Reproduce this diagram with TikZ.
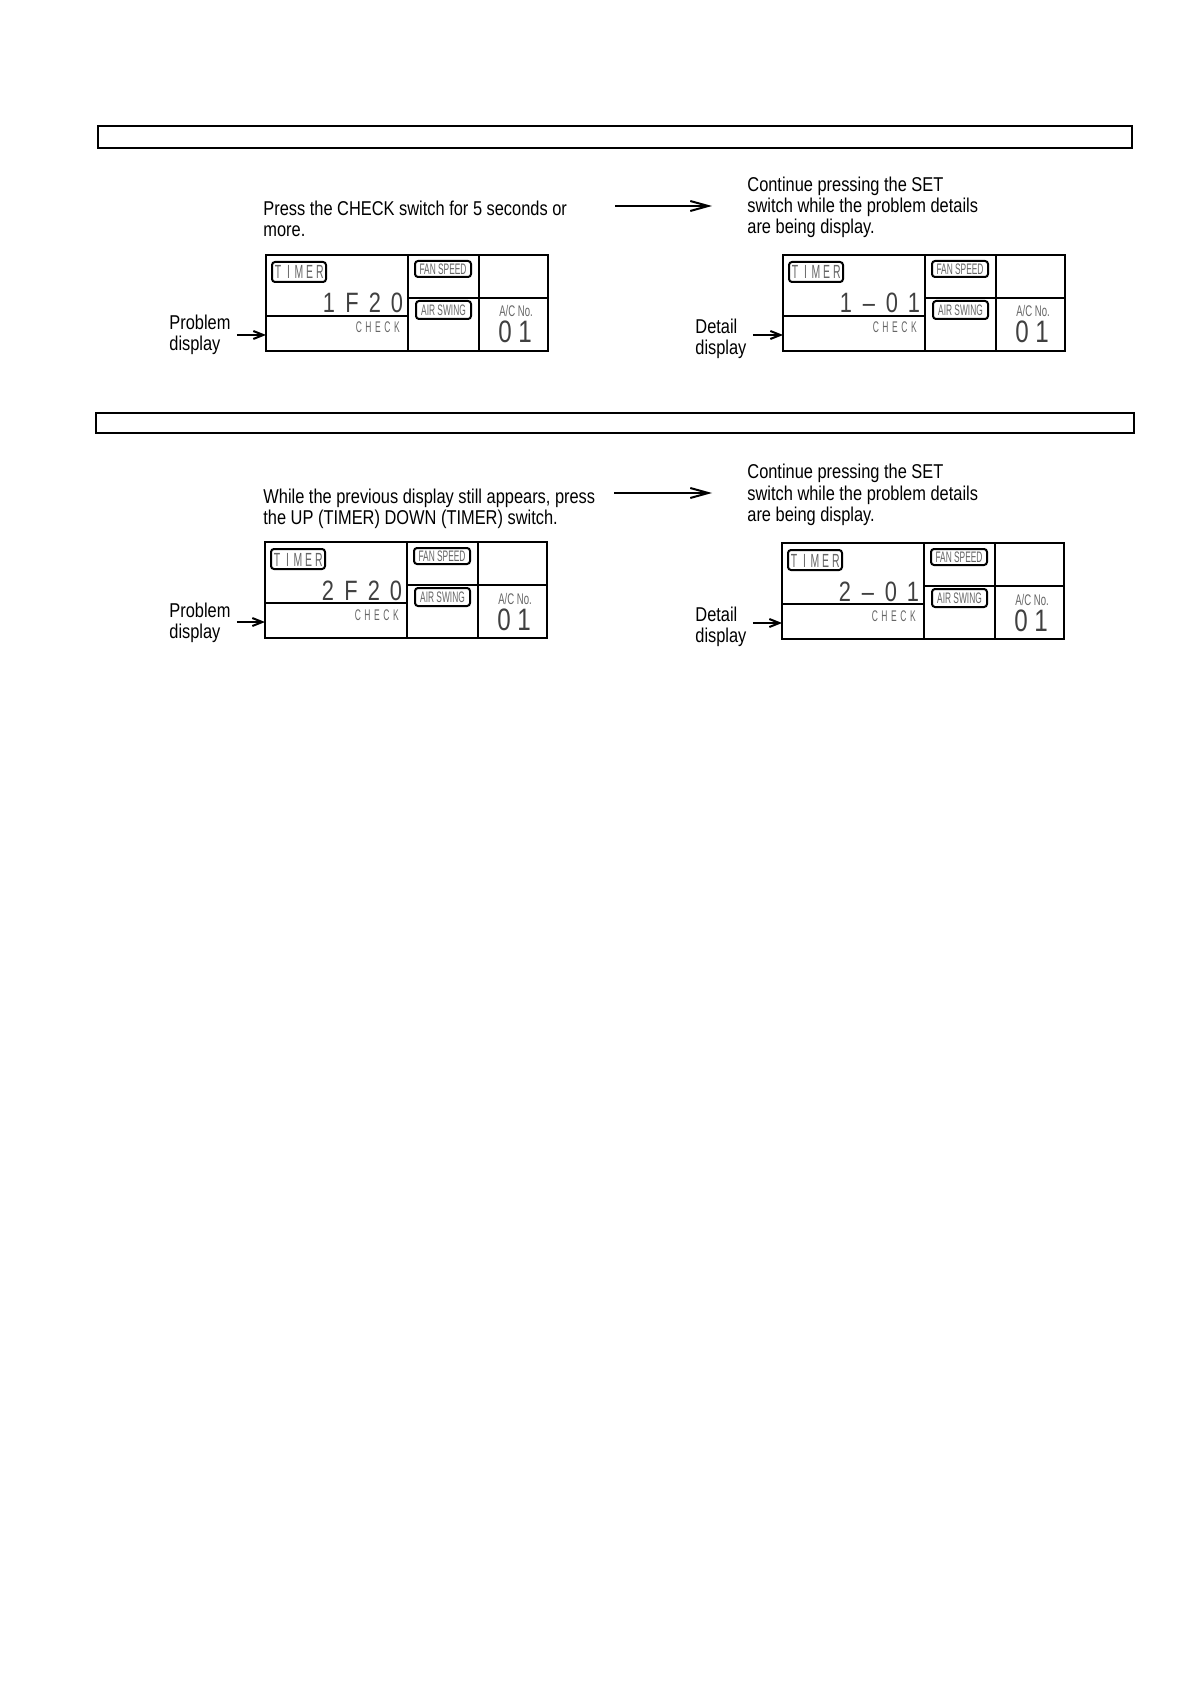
\documentclass[tikz,border=0pt]{standalone}
\usepackage{fontspec}
\setmainfont{Liberation Sans}[FakeStretch=0.82]
\newfontfamily\lcdn{Liberation Sans}[FakeStretch=0.55]
\newfontfamily\lcdd{Liberation Sans}[FakeStretch=0.62]
\newfontfamily\lcdw{Liberation Sans}[FakeStretch=0.78]
\usetikzlibrary{arrows.meta,calc}
\definecolor{lcdgray}{gray}{0.4}
\definecolor{lcddark}{gray}{0.25}
\tikzset{
  frame/.style={draw, line width=1.3pt},
  div/.style={line width=1pt},
  tag/.style={draw, rounded corners=1.5pt, line width=1pt, inner sep=0pt},
  banner/.style={draw, line width=0.6pt},
  bigarr/.style={line width=0.9pt, -{Straight Barb[length=9pt,width=5pt,line width=1pt]}},
  smallarr/.style={line width=0.9pt, -{Straight Barb[length=5pt,width=4pt,line width=1pt]}},
  txt/.style={anchor=base west, align=left, inner sep=0pt, font=\fontsize{10}{10.5}\selectfont},
  lcdtxt/.style={inner sep=0pt, anchor=base, text=lcdgray},
  pics/lcd/.style n args={4}{code={
    \draw[frame] (0,0) rectangle (282,96);
    \coordinate (-in) at (0,80);
    \draw[div] (142,0) -- (142,96);
    \draw[div] (213,0) -- (213,96);
    \draw[div] (0,61) -- (142,61);
    \draw[div] (142,43) -- (282,43);
    \node[tag, minimum width=27pt, minimum height=10pt] (-timer) at (33,17) {};
    \foreach \ch/\xx [count=\k] in {T/12,I/22.5,M/33,E/43.5,R/54}
      \node[lcdtxt, font=\lcdn\fontsize{9.5}{9.5}\selectfont] (-tm\k) at (\xx,24) {\ch};
    \node[lcdtxt, text=lcddark, font=\lcdw\fontsize{14}{14}\selectfont] (-d1) at (63,58) {#1};
    \node[lcdtxt, text=lcddark, font=\lcdw\fontsize{14}{14}\selectfont] (-d2) at (86,58) {#2};
    \node[lcdtxt, text=lcddark, font=\lcdw\fontsize{14}{14}\selectfont] (-d3) at (109,58) {#3};
    \node[lcdtxt, text=lcddark, font=\lcdw\fontsize{14}{14}\selectfont] (-d4) at (131,58) {#4};
    \foreach \ch/\xx [count=\k] in {C/93,H/102.5,E/112,C/121.5,K/131}
      \node[lcdtxt, font=\lcdn\fontsize{7.7}{7.7}\selectfont] (-ck\k) at (\xx,78) {\ch};
    \node[tag, minimum width=28pt, minimum height=8pt, text=lcdgray,
          font=\lcdn\fontsize{7.6}{7.6}\selectfont] (-fan) at (177,14) {FAN SPEED};
    \node[tag, minimum width=27.5pt, minimum height=9pt, text=lcdgray,
          font=\lcdn\fontsize{7.6}{7.6}\selectfont] (-air) at (177.5,55) {AIR SWING};
    \node[lcdtxt, font=\lcdd\fontsize{7.7}{7.7}\selectfont] (-acno) at (250,62) {A/C No.};
    \node[lcdtxt, text=lcddark, font=\lcdw\fontsize{15.5}{15.5}\selectfont] (-n0) at (239,88) {0};
    \node[lcdtxt, text=lcddark, font=\lcdw\fontsize{15.5}{15.5}\selectfont] (-n1) at (259,88) {1};
  }}
}
\begin{document}
\begin{tikzpicture}[x=0.5pt,y=-0.5pt]
\useasboundingbox (0,0) rectangle (1190,1684);
\fill[white] (0,0) rectangle (1190,1684);

% ---- section 1 ----
\draw[banner] (98,126) rectangle (1132,148);
\node[txt] (t1) at (263,237) {Press the CHECK switch for 5 seconds or\\more.};
\node[txt] (t2) at (747,234) {Continue pressing the SET\\switch while the problem details\\are being display.};
\coordinate (a1s) at (615,206);
\coordinate (a1e) at (712,206);
\draw[bigarr] (a1s) -- (a1e);
\pic (p1) at (266,255) {lcd={1}{F}{2}{0}};
\pic (d1) at (783,255) {lcd={1}{–}{0}{1}};
\node[txt] (l1) at (169,351) {Problem\\display};
\draw[smallarr] ($(l1.east |- p1-in)+(6,0)$) -- (p1-in);
\node[txt] (l2) at (695,355) {Detail\\display};
\draw[smallarr] ($(l2.east |- d1-in)+(6,0)$) -- (d1-in);

% ---- section 2 ----
\draw[banner] (96,413) rectangle (1134,433);
\node[txt] (t3) at (263,524) {While the previous display still appears, press\\the UP (TIMER) DOWN (TIMER) switch.};
\node[txt] (t4) at (747,521) {Continue pressing the SET\\switch while the problem details\\are being display.};
\coordinate (a2s) at (614,493);
\coordinate (a2e) at (712,493);
\draw[bigarr] (a2s) -- (a2e);
\pic (p2) at (265,542) {lcd={2}{F}{2}{0}};
\pic (d2) at (782,543) {lcd={2}{–}{0}{1}};
\node[txt] (l3) at (169,638) {Problem\\display};
\draw[smallarr] ($(l3.east |- p2-in)+(6,0)$) -- (p2-in);
\node[txt] (l4) at (695,642) {Detail\\display};
\draw[smallarr] ($(l4.east |- d2-in)+(6,0)$) -- (d2-in);
\end{tikzpicture}
\end{document}
